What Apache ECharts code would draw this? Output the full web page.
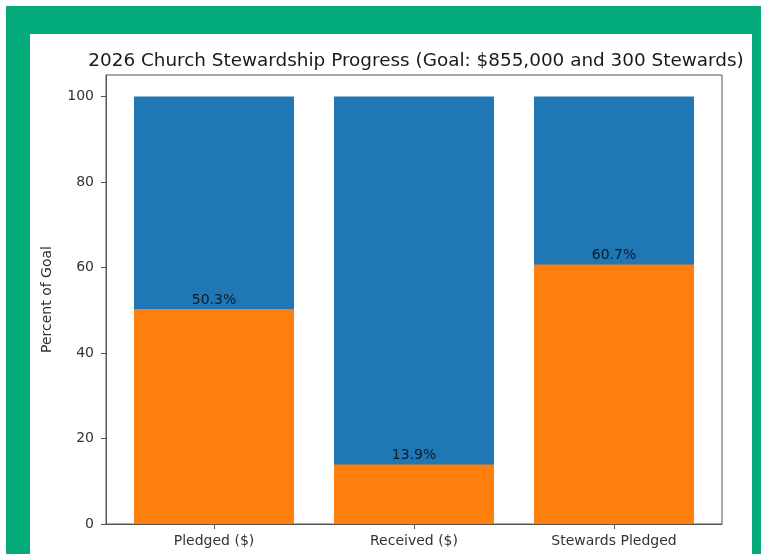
<!DOCTYPE html>
<html>
<head>
<meta charset="utf-8">
<script src="https://cdn.jsdelivr.net/npm/echarts@6/dist/echarts.min.js"></script>
<style>
  html, body { margin: 0; padding: 0; background: #ffffff; }
  #frame { position: absolute; left: 6px; top: 6px; width: 755px; height: 548px; background: #03ab7b; }
  #panel { position: absolute; left: 30px; top: 34px; width: 722px; height: 520px; background: #ffffff; }
  #chart { position: absolute; left: 0; top: 0; width: 761px; height: 554px; }
</style>
</head>
<body>
<div id="frame"></div>
<div id="panel"></div>
<div id="chart"></div>
<script>
const titleText = '2026 Church Stewardship Progress (Goal: $855,000 and 300 Stewards)';
const categories = ['Pledged ($)', 'Received ($)', 'Stewards Pledged'];
const goalPct = [100, 100, 100];
const progressPct = [50.3, 13.9, 60.7];
const yTicks = [0, 20, 40, 60, 80, 100];

const idx = categories.map((c, i) => i);
const font = 'DejaVu Sans';

const chart = echarts.init(document.getElementById('chart'), null, { renderer: 'canvas' });
chart.setOption({
  backgroundColor: 'transparent',
  animation: false,
  title: {
    text: titleText,
    left: 411,
    top: 47,
    textAlign: 'center',
    textStyle: { fontFamily: font, fontSize: 18.4, fontWeight: 'normal', color: '#1a1a1a' }
  },
  grid: {
    left: 106, right: 39, top: 75, bottom: 30,
    show: true, borderColor: '#555', borderWidth: 1, backgroundColor: 'transparent'
  },
  xAxis: {
    type: 'value',
    min: -0.54,
    max: 2.54,
    splitLine: { show: false },
    axisLine: { show: true, onZero: false, lineStyle: { color: '#555', width: 1 } },
    axisTick: { show: true, length: 5, customValues: idx, lineStyle: { color: '#555' } },
    axisLabel: {
      customValues: idx,
      margin: 10,
      fontFamily: font, fontSize: 14, color: '#333',
      formatter: v => categories[Math.round(v)] || ''
    }
  },
  yAxis: {
    type: 'value',
    min: 0,
    max: 105,
    name: 'Percent of Goal',
    nameLocation: 'middle',
    nameRotate: 90,
    nameGap: 52,
    nameTextStyle: { fontFamily: font, fontSize: 14, color: '#333' },
    splitLine: { show: false },
    axisLine: { show: true, onZero: false, lineStyle: { color: '#555', width: 1 } },
    axisTick: { show: true, length: 5, customValues: yTicks, lineStyle: { color: '#555' } },
    axisLabel: {
      customValues: yTicks,
      margin: 12,
      fontFamily: font, fontSize: 14, color: '#333'
    }
  },
  series: [
    {
      name: 'Goal',
      type: 'bar',
      barWidth: 160,
      barGap: '-100%',
      itemStyle: { color: '#1f77b4' },
      data: idx.map(i => [i, goalPct[i]])
    },
    {
      name: 'Progress',
      type: 'bar',
      barWidth: 160,
      barGap: '-100%',
      itemStyle: { color: '#ff7f0e' },
      label: {
        show: true,
        position: 'top',
        distance: 2,
        fontFamily: font, fontSize: 14, color: '#0d1b2a',
        formatter: p => progressPct[p.dataIndex].toFixed(1) + '%'
      },
      data: idx.map(i => [i, progressPct[i]])
    }
  ]
});
</script>
</body>
</html>
